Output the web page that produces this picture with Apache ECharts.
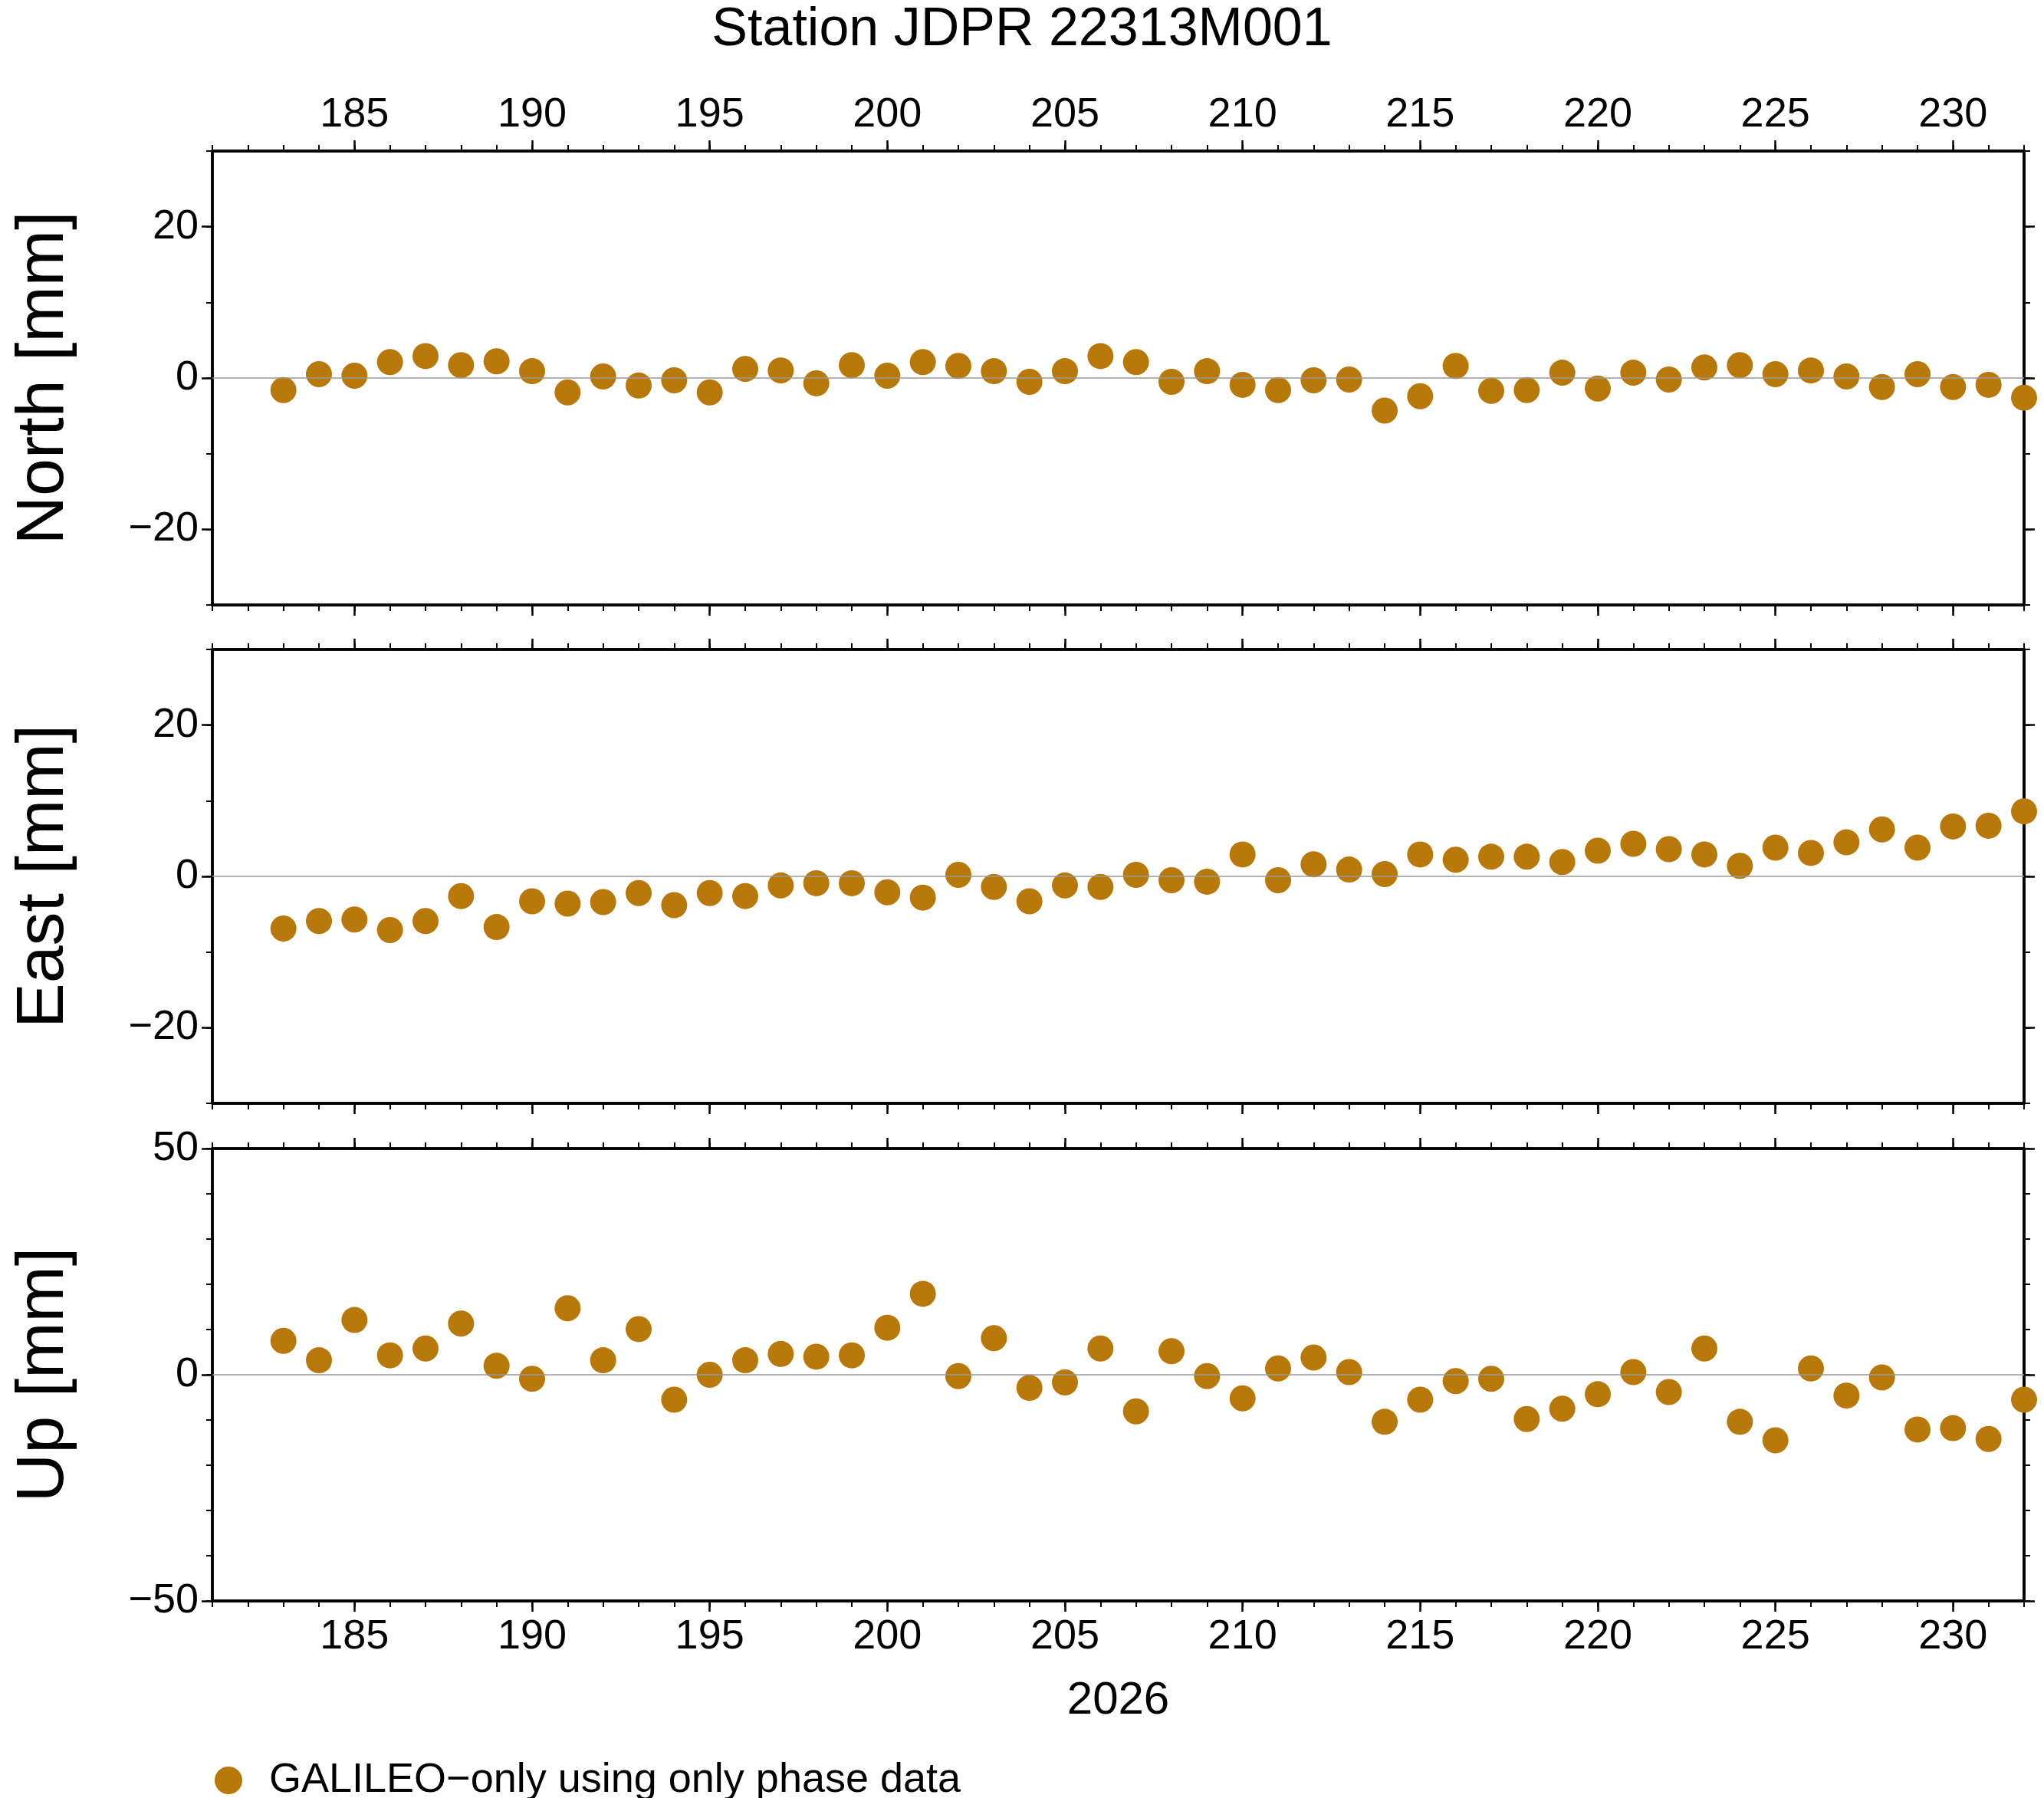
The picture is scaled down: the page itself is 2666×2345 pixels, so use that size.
<!DOCTYPE html>
<html><head><meta charset="utf-8">
<script src="https://cdn.jsdelivr.net/npm/echarts@6/dist/echarts.min.js"></script>
<style>html,body{margin:0;padding:0;background:#fff}#c{width:2666px;height:2345px}</style>
</head><body><div id="c"></div>
<script>
const days = [183,184,185,186,187,188,189,190,191,192,193,194,195,196,197,198,199,200,201,202,203,204,205,206,207,208,209,210,211,212,213,214,215,216,217,218,219,220,221,222,223,224,225,226,227,228,229,230,231,232];
const north = [-1.6,0.5,0.3,2.1,2.9,1.7,2.2,0.9,-1.9,0.2,-1.0,-0.3,-1.9,1.2,1.0,-0.7,1.7,0.3,2.1,1.6,0.9,-0.5,0.9,2.9,2.1,-0.5,0.9,-0.9,-1.6,-0.3,-0.2,-4.3,-2.4,1.6,-1.7,-1.6,0.7,-1.4,0.7,-0.2,1.4,1.7,0.5,1.0,0.2,-1.2,0.5,-1.2,-0.9,-2.6];
const east = [-6.9,-5.9,-5.7,-7.1,-5.9,-2.6,-6.7,-3.3,-3.6,-3.4,-2.2,-3.8,-2.2,-2.6,-1.2,-0.9,-0.9,-2.1,-2.8,0.2,-1.4,-3.3,-1.2,-1.4,0.2,-0.5,-0.7,2.9,-0.5,1.6,0.9,0.3,2.9,2.2,2.6,2.6,1.9,3.4,4.3,3.6,2.9,1.4,3.8,3.1,4.5,6.2,3.8,6.6,6.7,8.6];
const up = [7.5,3.2,12.1,4.3,5.8,11.3,2.0,-0.9,14.7,3.2,10.1,-5.5,0,3.2,4.6,4.0,4.3,10.4,17.9,-0.3,8.1,-2.9,-1.7,5.8,-8.1,5.2,-0.3,-5.2,1.4,3.8,0.6,-10.4,-5.5,-1.4,-0.9,-9.8,-7.5,-4.3,0.6,-3.8,5.8,-10.4,-14.5,1.4,-4.6,-0.6,-12.1,-11.8,-14.2,-5.5];
const xMajor = [185,190,195,200,205,210,215,220,225,230];
const panels = [
  {name:'North [mm]', data:north, min:-30, max:30, major:[-20,0,20], minorInt:10},
  {name:'East [mm]', data:east, min:-30, max:30, major:[-20,0,20], minorInt:10},
  {name:'Up [mm]', data:up, min:-50, max:50, major:[-50,0,50], minorInt:10}
];
const seriesName = 'GALILEO\u2212only using only phase data';
const tops = [197, 847, 1498], heights = [592, 592, 590];
const FONT = 'Liberation Sans';
const fmt = v => (v < 0 ? '\u2212' + Math.abs(v) : String(v));
const grid = [], xAxis = [], yAxis = [], series = [];
const line = {show:true, onZero:false, lineStyle:{color:'#000', width:3.5}};
panels.forEach((p, i) => {
  grid.push({left:277, right:26, top:tops[i], height:heights[i]});
  const base = {type:'value', gridIndex:i, min:181, max:232, splitLine:{show:false}, axisLine:line};
  ['bottom','top'].forEach(pos => {
    const showLab = (pos==='bottom' && i===2) || (pos==='top' && i===0);
    xAxis.push(Object.assign({}, base, {position:pos,
      name: (pos==='bottom' && i===2) ? '2026' : '', nameLocation:'middle', nameGap:100,
      nameTextStyle:{fontFamily:FONT, fontSize:60, color:'#000'},
      axisTick:{show:true, inside:false, length:14, lineStyle:{color:'#000', width:2.5}, customValues:xMajor},
      axisLabel:{show:showLab, customValues:xMajor, fontFamily:FONT, fontSize:54, color:'#000', margin:20}}));
    xAxis.push(Object.assign({}, base, {position:pos, interval:1,
      axisTick:{show:true, length:8, lineStyle:{color:'#000', width:2}}, axisLabel:{show:false}}));
  });
  const ybase = {type:'value', gridIndex:i, min:p.min, max:p.max, splitLine:{show:false}, axisLine:line};
  ['left','right'].forEach(pos => {
    yAxis.push(Object.assign({}, ybase, {position:pos,
      name: pos==='left' ? p.name : '', nameLocation:'middle', nameGap:175,
      nameTextStyle:{fontFamily:FONT, fontSize:88, color:'#000'},
      axisTick:{show:true, length:14, lineStyle:{color:'#000', width:2.5}, customValues:p.major},
      axisLabel:{show:pos==='left', customValues:p.major, formatter:fmt, fontFamily:FONT, fontSize:54, color:'#000', margin:18}}));
    yAxis.push(Object.assign({}, ybase, {position:pos, interval:p.minorInt,
      axisTick:{show:true, length:8, lineStyle:{color:'#000', width:2}}, axisLabel:{show:false}}));
  });
  series.push({type:'scatter', name:seriesName, xAxisIndex:i*4, yAxisIndex:i*4,
    data: days.map((d, k) => [d, p.data[k]]), symbolSize:34,
    itemStyle:{color:'#b8790a', opacity:1},
    markLine:{silent:true, symbol:'none', label:{show:false}, lineStyle:{color:'#999', width:1.5, type:'solid'}, data:[{yAxis:0}]}});
});
const chart = echarts.init(document.getElementById('c'));
chart.setOption({
  animation:false, backgroundColor:'#fff',
  title:{text:'Station JDPR 22313M001', left:'center', top:0, textStyle:{fontFamily:FONT, fontSize:70, fontWeight:'normal', color:'#000'}},
  legend:{data:[seriesName], left:275, top:2290, icon:'circle', itemWidth:36, itemHeight:36,
    textStyle:{fontFamily:FONT, fontSize:54, color:'#000', padding:[0,0,0,30]}},
  grid, xAxis, yAxis, series
});
</script></body></html>
